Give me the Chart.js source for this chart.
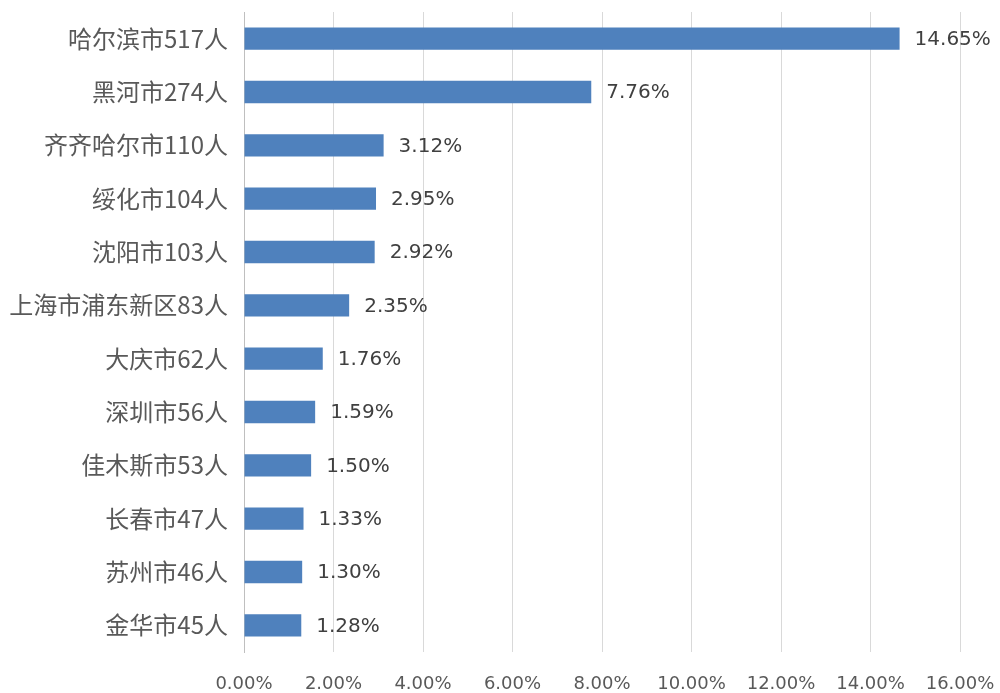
<!DOCTYPE html>
<html>
<head>
<meta charset="utf-8">
<script src="https://cdn.jsdelivr.net/npm/chart.js@4/dist/chart.umd.min.js"></script>
<style>
  html, body { margin: 0; padding: 0; background: #fff; }
  #wrap { width: 1000px; height: 693px; }
</style>
</head>
<body>
<div id="wrap"><canvas id="cityChart" width="1000" height="693"></canvas></div>
<script>
const cities = ["哈尔滨市517人", "黑河市274人", "齐齐哈尔市110人", "绥化市104人", "沈阳市103人",
    "上海市浦东新区83人", "大庆市62人", "深圳市56人", "佳木斯市53人", "长春市47人", "苏州市46人", "金华市45人"];
const shares = [14.65, 7.76, 3.12, 2.95, 2.92, 2.35, 1.76, 1.59, 1.50, 1.33, 1.30, 1.28];
const xMax = 16;
const xStep = 2;

const cjkFont = "'Noto Sans CJK SC', sans-serif";
const numFont = "'DejaVu Sans', sans-serif";

// draws the percentage to the right of each bar
const valueLabels = {
    id: "valueLabels",
    afterDatasetsDraw(chart) {
        const ctx = chart.ctx;
        const meta = chart.getDatasetMeta(0);
        ctx.save();
        ctx.font = "20px " + numFont;
        ctx.fillStyle = "#404040";
        ctx.textBaseline = "middle";
        ctx.textAlign = "left";
        meta.data.forEach((bar, i) => {
            ctx.fillText(shares[i].toFixed(2) + "%", bar.x + 15, bar.y + 1);
        });
        ctx.restore();
    }
};

const ctx = document.getElementById("cityChart").getContext("2d");

new Chart(ctx, {
    type: "bar",
    data: {
        labels: cities,
        datasets: [{
            data: shares,
            backgroundColor: "#4f81bd",
            borderWidth: 0,
            categoryPercentage: 1,
            barPercentage: 0.42
        }]
    },
    options: {
        indexAxis: "y",
        responsive: false,
        animation: false,
        layout: { padding: { top: 12, right: 40, bottom: 0, left: 0 } },
        plugins: {
            legend: { display: false },
            tooltip: { enabled: false }
        },
        scales: {
            x: {
                min: 0,
                max: xMax,
                ticks: {
                    stepSize: xStep,
                    color: "#595959",
                    font: { size: 18, family: numFont },
                    padding: 22,
                    callback: v => v.toFixed(2) + "%"
                },
                grid: { color: "#d9d9d9", lineWidth: 1, drawTicks: false },
                border: { display: false },
                afterFit: scale => {
                    scale.height = 41;
                    scale.paddingLeft = 0;
                    scale.paddingRight = 0;
                }
            },
            y: {
                ticks: {
                    color: "#595959",
                    font: { size: 24, family: cjkFont },
                    padding: 16
                },
                grid: { display: false, drawTicks: false },
                border: { display: true, color: "#bfbfbf", width: 1 },
                afterFit: scale => {
                    scale.width = 244;
                    scale.paddingTop = 0;
                    scale.paddingBottom = 0;
                }
            }
        }
    },
    plugins: [valueLabels]
});
</script>
</body>
</html>
